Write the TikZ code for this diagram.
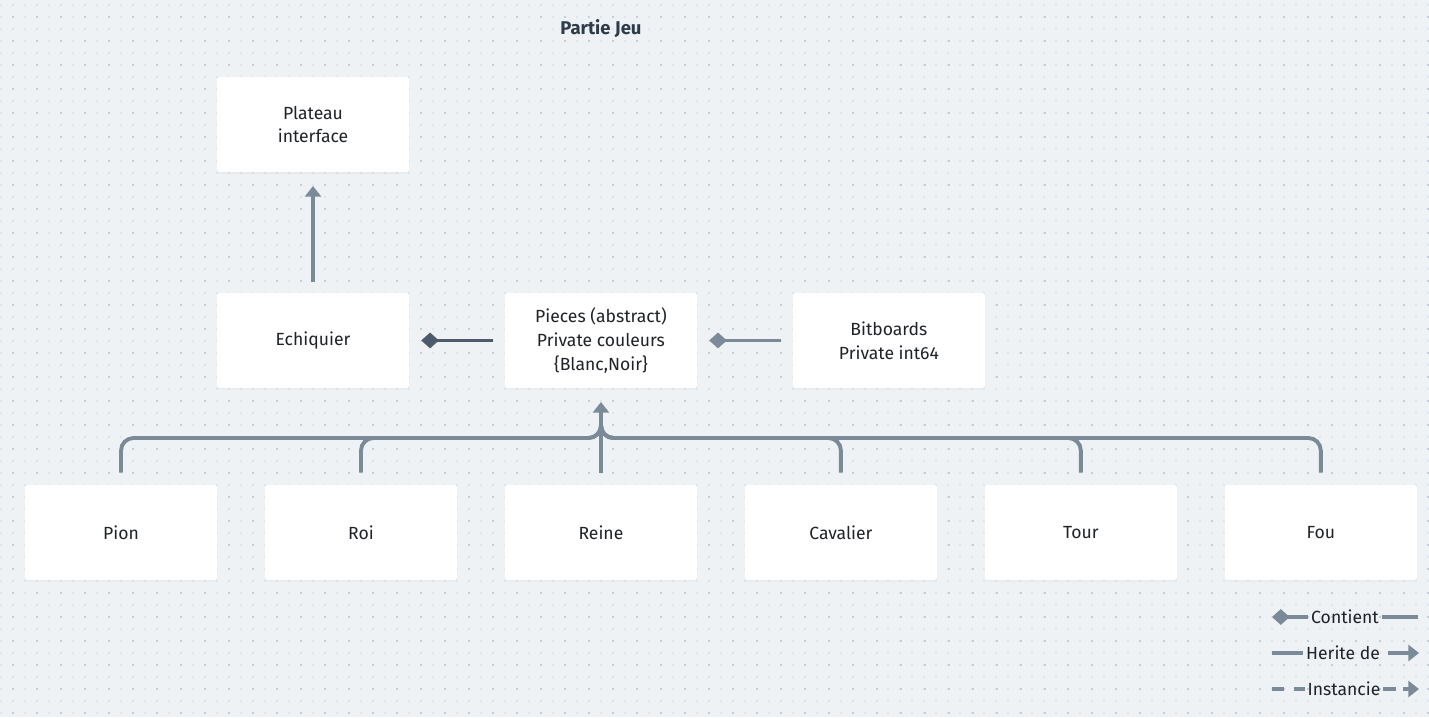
\documentclass[tikz,border=0pt]{standalone}
\usepackage{fontspec}
\setmainfont{Fira Sans}
\usetikzlibrary{positioning,arrows.meta,shadows}
\definecolor{bgcol}{HTML}{EEF2F5}
\definecolor{dotcol}{HTML}{C6CDD6}
\definecolor{faintdot}{HTML}{E0E5EA}
\definecolor{linecol}{HTML}{7B8A99}
\definecolor{darkline}{HTML}{4B5B6B}
\definecolor{txtcol}{HTML}{1F2328}
\definecolor{titlecol}{HTML}{2D3B4A}
\tikzset{
  block/.style={rectangle, fill=white, rounded corners=1.5pt, minimum width=3.84cm,
    minimum height=1.9cm, align=center, text=txtcol, outer sep=0pt,
    font=\fontsize{10}{13.6}\selectfont,
    drop shadow={opacity=0.06, shadow xshift=0pt, shadow yshift=-1pt}},
  line/.style={draw=linecol, line width=2.2pt},
  inherit/.style={line, -{Triangle[length=6pt,width=9pt]}},
  contain/.style={line, {Diamond[length=10pt,width=9pt]}-},
  legend/.style={text=txtcol, font=\fontsize{10}{12}\selectfont, inner sep=1.5pt}
}
\begin{document}
\begin{tikzpicture}[x=0.02cm, y=-0.02cm]
    % Background with dots
    \fill[bgcol] (0,0) rectangle (1429,717);
    \useasboundingbox (0,0) rectangle (1429,717);
    \foreach \y in {4.7,16.7,...,716}
        \draw[faintdot, line width=0.04cm, dash pattern=on 0.04cm off 0.2cm] (-0.3,\y) -- (1429,\y);
    \foreach \y in {16.7,40.7,...,716}
        \draw[dotcol, line width=0.04cm, dash pattern=on 0.04cm off 0.44cm] (11.7,\y) -- (1429,\y);
    % Title
    \node [font=\bfseries\fontsize{10.5}{12}\selectfont, text=titlecol] (title) at (601,29) {Partie Jeu};
    % Place nodes
    \node [block] (plateau) at (313,124.5) {Plateau\\interface};
    \node [block, below=2.42cm of plateau] (echiquier) {Echiquier};
    \node [block, right=1.92cm of echiquier] (pieces) {Pieces (abstract)\\Private couleurs\\\{Blanc,Noir\}};
    \node [block, right=1.92cm of pieces] (bitboards) {Bitboards\\Private int64};
    \node [block, below=1.94cm of pieces] (reine) {Reine};
    \node [block, left=0.96cm of reine] (roi) {Roi};
    \node [block, left=0.96cm of roi] (pion) {Pion};
    \node [block, right=0.96cm of reine] (cavalier) {Cavalier};
    \node [block, right=0.96cm of cavalier] (tour) {Tour};
    \node [block, right=0.96cm of tour] (fou) {Fou};
    \coordinate (bus) at (601,438);
    \coordinate (hub) at (601,420);
    % Draw edges
    \path [inherit, shorten <=6, shorten >=8] (echiquier) -- (plateau);
    \path [contain, draw=darkline, shorten <=7, shorten >=7] (echiquier) -- (pieces);
    \path [contain, shorten <=7, shorten >=7] (pieces) -- (bitboards);
    \path [inherit, shorten <=7, shorten >=8] (reine) -- (pieces);
    \foreach \child in {pion,roi,cavalier,tour,fou}
        \path [line, rounded corners=0.25cm, shorten <=7] (\child.north) |- (bus) -- (hub);
    % Legend
    \node [legend] (contient) at (1345,617) {Contient};
    \coordinate (c1) at (1272,617);
    \coordinate (c2) at (1418,617);
    \path [contain] (c1) -- (contient.west);
    \path [line] (contient.east) -- (c2);
    \node [legend] (herite) at (1343,653) {Herite de};
    \coordinate (h1) at (1272,653);
    \coordinate (h2) at (1419,653);
    \path [line] (h1) -- (herite.west);
    \path [inherit, shorten <=3] (herite.east) -- (h2);
    \node [legend] (instancie) at (1344,689) {Instancie};
    \coordinate (i1) at (1272,689);
    \coordinate (i2) at (1419,689);
    \path [line, dash pattern=on 0.24cm off 0.2cm] (i1) -- (instancie.west);
    \path [inherit, dash pattern=on 0.26cm off 0.14cm] (instancie.east) -- (i2);
\end{tikzpicture}
\end{document}
